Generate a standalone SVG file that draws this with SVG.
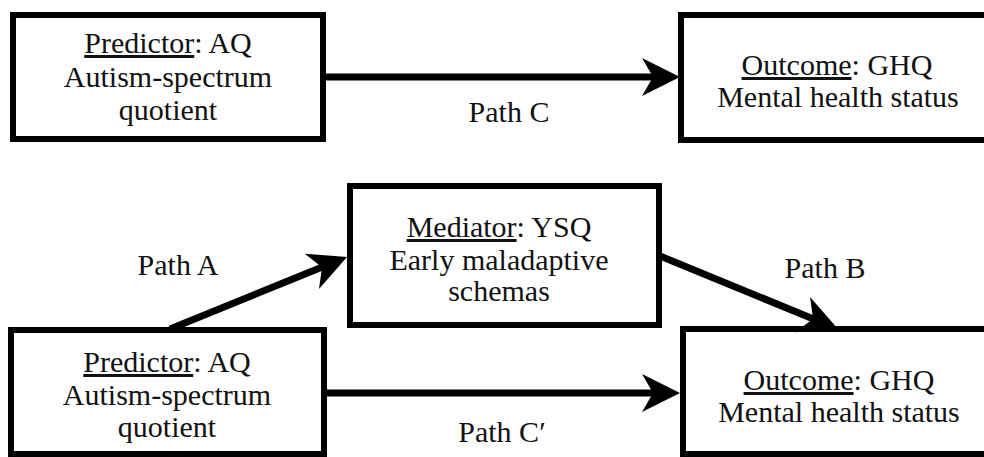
<svg xmlns="http://www.w3.org/2000/svg" width="984" height="457" viewBox="0 0 984 457" font-family="Liberation Serif, Times New Roman, serif">
<style>
.box{fill:#fff;stroke:#000;stroke-width:6}
.t{font-size:30px;fill:#111;text-anchor:middle}
.u{text-decoration:underline}
.c{stroke:#000;stroke-width:7;fill:none;marker-end:url(#ah)}
</style>
<defs>
<marker id="ah" markerUnits="userSpaceOnUse" markerWidth="40" markerHeight="40" refX="18" refY="20" orient="auto" overflow="visible">
<path d="M0,1 L38,20 L0,39 L11,20 Z" fill="#000"/>
</marker>
</defs>
<rect width="984" height="457" fill="#fff"/>
<g id="predictor-top">
<rect class="box" x="13" y="15" width="310" height="124"/>
<text class="t" x="168" y="53"><tspan class="u">Predictor</tspan>: AQ</text>
<text class="t" x="168" y="87">Autism-spectrum</text>
<text class="t" x="168" y="120">quotient</text>
</g>
<g id="outcome-top">
<rect class="box" x="681" y="15" width="330" height="125"/>
<text class="t" x="837" y="75"><tspan class="u">Outcome</tspan>: GHQ</text>
<text class="t" x="838" y="107">Mental health status</text>
</g>
<g id="mediator">
<rect class="box" x="350" y="186" width="309" height="139"/>
<text class="t" x="499" y="237"><tspan class="u">Mediator</tspan>: YSQ</text>
<text class="t" x="499" y="270">Early maladaptive</text>
<text class="t" x="499" y="301">schemas</text>
</g>
<g id="predictor-bottom">
<rect class="box" x="11" y="330" width="313" height="124"/>
<text class="t" x="167" y="372"><tspan class="u">Predictor</tspan>: AQ</text>
<text class="t" x="167" y="405">Autism-spectrum</text>
<text class="t" x="167" y="437">quotient</text>
</g>
<g id="outcome-bottom">
<rect class="box" x="683" y="329" width="330" height="125"/>
<text class="t" x="839" y="390"><tspan class="u">Outcome</tspan>: GHQ</text>
<text class="t" x="839" y="422">Mental health status</text>
</g>
<g id="connectors">
<line class="c" x1="326" y1="77" x2="660" y2="77"/>
<line class="c" x1="327" y1="393" x2="660" y2="393"/>
<line class="c" x1="170" y1="329" x2="328.5" y2="264.5"/>
<line class="c" x1="660" y1="256" x2="819.5" y2="321.5"/>
<text class="t" x="509" y="122">Path C</text>
<text class="t" x="502" y="442">Path C′</text>
<text class="t" x="178" y="275">Path A</text>
<text class="t" x="825" y="278">Path B</text>
</g>
</svg>
